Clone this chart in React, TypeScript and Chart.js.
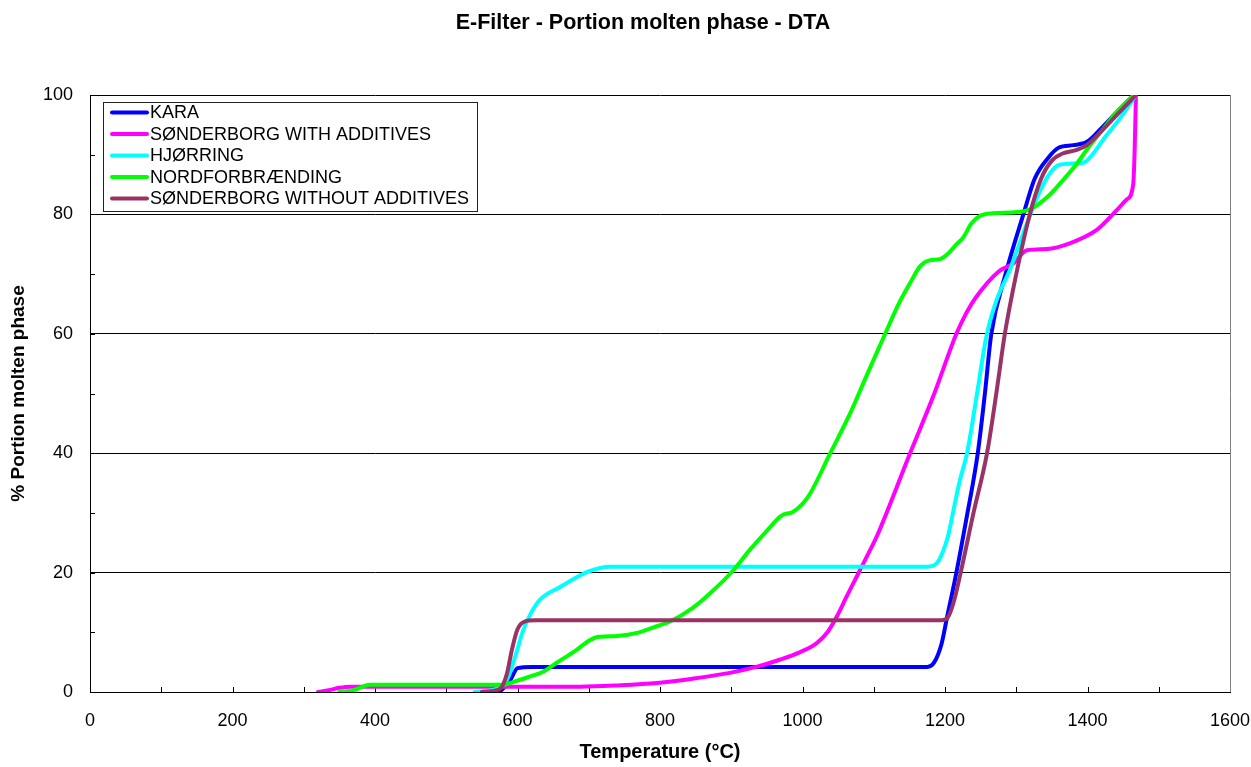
import { useEffect, useRef } from 'react';
import { Chart, registerables } from 'chart.js';

Chart.register(...registerables);

const FONT = '"Liberation Sans", Arial, Helvetica, sans-serif';

const CHART_TITLE = 'E-Filter - Portion molten phase - DTA';
const X_TITLE = 'Temperature (°C)';
const Y_TITLE = '% Portion molten phase';

const X_MIN = 0;
const X_MAX = 1600;
const X_STEP = 200;
const Y_MIN = 0;
const Y_MAX = 100;
const Y_STEP = 20;

const SERIES_NAMES = [
  'KARA',
  'SØNDERBORG WITH ADDITIVES',
  'HJØRRING',
  'NORDFORBRÆNDING',
  'SØNDERBORG WITHOUT ADDITIVES',
];
const SERIES_COLORS = ['#0000FF', '#FF00FF', '#00FFFF', '#00FF00', '#993366'];

// KARA
const karaT = [575, 590, 600, 620, 900, 1175, 1185, 1195, 1203, 1214, 1230, 1246, 1256, 1265, 1285, 1310, 1326, 1345, 1360, 1380, 1400, 1420, 1440, 1465];
const karaV = [0, 2, 4, 4.2, 4.2, 4.2, 5, 8, 12.6, 18.8, 29, 40, 50, 60, 70, 80, 86, 89.5, 91.2, 91.6, 92.2, 94.5, 97, 100];

// SØNDERBORG WITH ADDITIVES
const sondWithT = [320, 335, 350, 365, 500, 688, 740, 796, 850, 898, 935, 968, 995, 1020, 1035, 1048, 1062, 1076, 1095, 1104, 1151, 1185, 1216, 1230, 1244, 1275, 1296, 1315, 1343, 1376, 1413, 1441, 1455, 1464, 1466, 1468];
const sondWithV = [0, 0.3, 0.7, 0.9, 0.9, 0.9, 1.1, 1.5, 2.3, 3.2, 4.2, 5.4, 6.6, 8.2, 10, 12.6, 16, 19.3, 23.8, 26, 40, 50, 60, 63.5, 66.2, 70.4, 71.8, 74, 74.2, 75.2, 77.4, 80.7, 82.5, 84.9, 90, 100];

// HJØRRING
const hjorringT = [540, 570, 585, 597, 607, 618, 632, 660, 700, 730, 1175, 1188, 1197, 1204, 1212, 1221, 1231, 1245, 1258, 1272, 1291, 1315, 1330, 1345, 1360, 1375, 1395, 1410, 1425, 1445, 1468];
const hjorringV = [0, 0.5, 2, 6, 10, 13, 15.5, 17.6, 20.2, 21, 21, 21.5, 23.5, 26, 30.5, 35.5, 40, 50, 59.5, 65.5, 70.7, 78.5, 83, 86.5, 88.3, 88.5, 88.7, 90.5, 93, 96, 100];

// NORDFORBRÆNDING
const nordT = [350, 370, 393, 580, 595, 615, 636, 655, 680, 702, 712, 740, 768, 790, 814, 845, 870, 903, 926, 950, 970, 987, 1000, 1011, 1039, 1067, 1090, 1116, 1135, 1151, 1165, 1178, 1193, 1205, 1216, 1226, 1237, 1250, 1268, 1301, 1322, 1347, 1366, 1385, 1400, 1420, 1440, 1465];
const nordV = [0, 0.3, 1.2, 1.2, 1.7, 2.5, 3.4, 4.9, 6.8, 8.7, 9.2, 9.4, 9.9, 10.8, 11.8, 14, 16.5, 20.4, 23.8, 27, 29.5, 30.2, 31.5, 33.3, 40, 46.7, 53, 60, 65, 68.5, 71.3, 72.3, 72.5, 73.5, 75, 76.2, 78.5, 79.8, 80.2, 80.4, 81, 83.3, 85.8, 88.5, 91, 94, 97, 100];

// SØNDERBORG WITHOUT ADDITIVES
const sondWithoutT = [550, 575, 585, 592, 600, 610, 625, 1195, 1204, 1212, 1222, 1240, 1259, 1272, 1284, 1300, 1319, 1335, 1350, 1365, 1385, 1400, 1420, 1440, 1468];
const sondWithoutV = [0, 0.5, 3, 7, 10.5, 11.8, 12, 12, 12.5, 15, 20, 30, 40, 50, 60, 70, 80, 86, 89, 90.2, 90.8, 91.7, 94, 96.5, 100];

const SERIES_T = [karaT, sondWithT, hjorringT, nordT, sondWithoutT];
const SERIES_V = [karaV, sondWithV, hjorringV, nordV, sondWithoutV];

const titlePlugin = {
  id: 'customTitle',
  afterDraw(chart: any) {
    const ctx = chart.ctx;
    ctx.save();
    ctx.fillStyle = '#000';
    ctx.font = `bold 21.5px ${FONT}`;
    ctx.textAlign = 'center';
    ctx.textBaseline = 'middle';
    ctx.fillText(CHART_TITLE, 643, 23);
    ctx.restore();
  },
};

const framePlugin = {
  id: 'frameTicks',
  beforeDatasetsDraw(chart: any) {
    const { ctx, chartArea } = chart;
    const xs = chart.scales.x;
    const ys = chart.scales.y;
    ctx.save();
    // right border
    ctx.strokeStyle = '#808080';
    ctx.lineWidth = 1;
    ctx.beginPath();
    ctx.moveTo(Math.round(chartArea.right) + 0.5, chartArea.top);
    ctx.lineTo(Math.round(chartArea.right) + 0.5, chartArea.bottom);
    ctx.stroke();
    // inward tick marks
    ctx.strokeStyle = '#000';
    ctx.beginPath();
    for (let t = X_MIN + 100; t < X_MAX; t += 100) {
      const px = Math.round(xs.getPixelForValue(t)) + 0.5;
      ctx.moveTo(px, chartArea.bottom);
      ctx.lineTo(px, chartArea.bottom - 5);
    }
    for (let v = Y_MIN + 10; v < Y_MAX; v += 10) {
      const py = Math.round(ys.getPixelForValue(v)) + 0.5;
      ctx.moveTo(chartArea.left, py);
      ctx.lineTo(chartArea.left + 5, py);
    }
    ctx.stroke();
    ctx.restore();
  },
};

const legendPlugin = {
  id: 'insideLegend',
  afterDraw(chart: any) {
    const ctx = chart.ctx;
    const left = 103.5;
    const top = 102.5;
    const w = 374;
    const h = 109;
    ctx.save();
    ctx.fillStyle = '#fff';
    ctx.fillRect(left, top, w, h);
    ctx.strokeStyle = '#222';
    ctx.lineWidth = 1;
    ctx.strokeRect(left, top, w, h);
    ctx.font = `18px ${FONT}`;
    ctx.textBaseline = 'middle';
    ctx.textAlign = 'left';
    SERIES_NAMES.forEach((name, i) => {
      const y = 112.5 + i * 21.5;
      ctx.strokeStyle = SERIES_COLORS[i];
      ctx.lineWidth = 4;
      ctx.lineCap = 'round';
      ctx.beginPath();
      ctx.moveTo(112, y);
      ctx.lineTo(147, y);
      ctx.stroke();
      ctx.fillStyle = '#000';
      ctx.fillText(name, 150, y + 1);
    });
    ctx.restore();
  },
};

export default function App() {
  const canvasRef = useRef<HTMLCanvasElement | null>(null);

  useEffect(() => {
    document.body.style.margin = '0';
    const canvas = canvasRef.current;
    if (!canvas) return;
    const datasets = SERIES_NAMES.map((name, i) => ({
      label: name,
      data: SERIES_T[i].map((t, k) => ({ x: t, y: SERIES_V[i][k] })),
      borderColor: SERIES_COLORS[i],
      backgroundColor: SERIES_COLORS[i],
      borderWidth: 4,
      pointRadius: 0,
      fill: false,
      cubicInterpolationMode: 'monotone' as const,
      borderCapStyle: 'round' as const,
      borderJoinStyle: 'round' as const,
      order: SERIES_NAMES.length - i,
    }));

    const chart = new Chart(canvas, {
      type: 'line',
      data: { datasets },
      plugins: [titlePlugin, framePlugin, legendPlugin],
      options: {
        responsive: false,
        animation: false,
        devicePixelRatio: 1,
        layout: { padding: { top: 95, right: 21, left: 0, bottom: 0 } },
        plugins: {
          legend: { display: false },
          title: { display: false },
          tooltip: { enabled: false },
        },
        scales: {
          x: {
            type: 'linear',
            min: X_MIN,
            max: X_MAX,
            ticks: {
              stepSize: X_STEP,
              color: '#000',
              font: { family: FONT, size: 18 },
              padding: 18,
              maxRotation: 0,
              callback: (v: any) => String(v),
            },
            grid: { display: false, drawTicks: false },
            border: { display: true, color: '#000', width: 1 },
            title: {
              display: true,
              text: X_TITLE,
              color: '#000',
              font: { family: FONT, size: 20, weight: 'bold' },
              padding: { top: 0, bottom: 3 },
            },
            afterFit(scale: any) {
              scale.height = 75;
              scale.paddingLeft = 0;
              scale.paddingRight = 0;
            },
          },
          y: {
            type: 'linear',
            min: Y_MIN,
            max: Y_MAX,
            ticks: {
              stepSize: Y_STEP,
              color: '#000',
              font: { family: FONT, size: 18 },
              padding: 17,
              callback: (v: any) => String(v),
            },
            grid: { display: true, color: '#000', lineWidth: 1, drawTicks: false },
            border: { display: true, color: '#000', width: 1 },
            title: {
              display: true,
              text: Y_TITLE,
              color: '#000',
              font: { family: FONT, size: 19, weight: 'bold' },
              padding: { top: 7, bottom: 0 },
            },
            afterFit(scale: any) {
              scale.width = 90;
              scale.paddingTop = 0;
              scale.paddingBottom = 0;
            },
          },
        },
      },
    });
    return () => chart.destroy();
  }, []);

  return (
    <div style={{ position: 'absolute', left: 0, top: 0, width: 1251, height: 767, background: '#fff' }}>
      <canvas ref={canvasRef} width={1251} height={767} style={{ display: 'block' }} />
    </div>
  );
}
